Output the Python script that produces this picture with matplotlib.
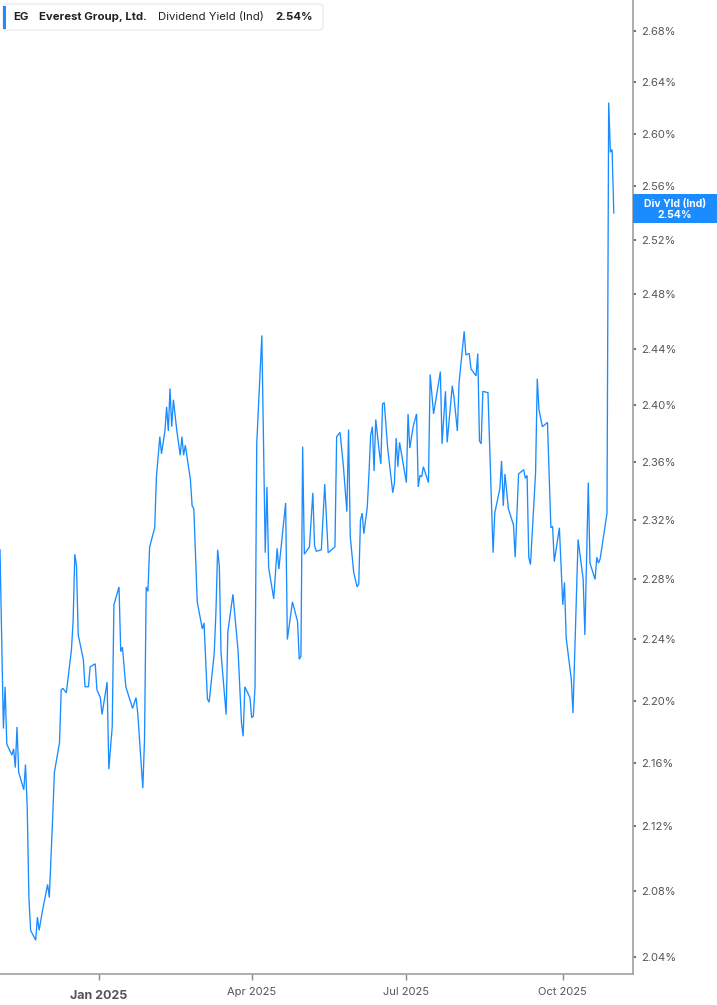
import matplotlib
matplotlib.use('Agg')
import matplotlib.pyplot as plt
import matplotlib.dates as mdates
from matplotlib.patches import FancyBboxPatch, Rectangle
from matplotlib.ticker import FixedLocator, NullLocator
import pandas as pd

plt.rcParams['font.family'] = ['Inter', 'DejaVu Sans']

TICKER = 'EG'
COMPANY = 'Everest Group, Ltd.'
METRIC = 'Dividend Yield (Ind)'
LAST_LABEL = '2.54%'
SHORT_METRIC = 'Div Yld (Ind)'

# dividend yield (%)
dates = [
    '2024-11-04', '2024-11-06', '2024-11-07', '2024-11-08', '2024-11-11', '2024-11-12', '2024-11-13',
    '2024-11-14', '2024-11-15', '2024-11-18', '2024-11-19', '2024-11-20', '2024-11-21', '2024-11-22',
    '2024-11-25', '2024-11-26', '2024-11-27', '2024-11-29',
    '2024-12-02', '2024-12-03', '2024-12-05', '2024-12-06', '2024-12-09', '2024-12-10', '2024-12-11',
    '2024-12-13', '2024-12-16', '2024-12-17', '2024-12-18', '2024-12-19', '2024-12-20', '2024-12-23',
    '2024-12-24', '2024-12-26', '2024-12-27', '2024-12-30', '2024-12-31',
    '2025-01-02', '2025-01-03', '2025-01-06', '2025-01-07', '2025-01-09', '2025-01-10', '2025-01-13',
    '2025-01-14', '2025-01-15', '2025-01-17', '2025-01-21', '2025-01-23', '2025-01-24', '2025-01-27',
    '2025-01-28', '2025-01-29', '2025-01-30', '2025-01-31',
    '2025-02-03', '2025-02-04', '2025-02-06', '2025-02-07', '2025-02-09', '2025-02-10', '2025-02-11',
    '2025-02-12', '2025-02-13', '2025-02-14', '2025-02-16', '2025-02-18', '2025-02-19', '2025-02-20',
    '2025-02-21', '2025-02-24', '2025-02-25', '2025-02-26', '2025-02-28',
    '2025-03-03', '2025-03-04', '2025-03-06', '2025-03-07', '2025-03-10', '2025-03-11', '2025-03-12',
    '2025-03-13', '2025-03-14', '2025-03-17', '2025-03-18', '2025-03-21', '2025-03-24', '2025-03-26',
    '2025-03-27', '2025-03-28', '2025-03-31',
    '2025-04-01', '2025-04-02', '2025-04-03', '2025-04-04', '2025-04-07', '2025-04-09', '2025-04-10',
    '2025-04-11', '2025-04-14', '2025-04-16', '2025-04-17', '2025-04-21', '2025-04-22', '2025-04-25',
    '2025-04-28', '2025-04-29', '2025-04-30',
    '2025-05-01', '2025-05-02', '2025-05-05', '2025-05-07', '2025-05-08', '2025-05-09', '2025-05-12',
    '2025-05-14', '2025-05-16', '2025-05-19', '2025-05-20', '2025-05-21', '2025-05-23', '2025-05-25',
    '2025-05-27', '2025-05-28', '2025-05-29', '2025-05-31',
    '2025-06-02', '2025-06-03', '2025-06-04', '2025-06-05', '2025-06-06', '2025-06-08', '2025-06-09',
    '2025-06-10', '2025-06-11', '2025-06-12', '2025-06-13', '2025-06-15', '2025-06-16', '2025-06-17',
    '2025-06-18', '2025-06-20', '2025-06-23', '2025-06-24', '2025-06-25', '2025-06-26', '2025-06-27',
    '2025-07-01', '2025-07-02', '2025-07-03', '2025-07-05', '2025-07-07', '2025-07-08', '2025-07-09',
    '2025-07-10', '2025-07-11', '2025-07-14', '2025-07-15', '2025-07-17', '2025-07-21', '2025-07-22',
    '2025-07-24', '2025-07-25', '2025-07-28', '2025-07-29', '2025-07-31',
    '2025-08-01', '2025-08-04', '2025-08-05', '2025-08-07', '2025-08-08', '2025-08-11', '2025-08-12',
    '2025-08-13', '2025-08-14', '2025-08-15', '2025-08-18', '2025-08-21', '2025-08-22', '2025-08-25',
    '2025-08-26', '2025-08-27', '2025-08-28', '2025-08-30',
    '2025-09-02', '2025-09-03', '2025-09-05', '2025-09-08', '2025-09-09', '2025-09-10', '2025-09-11',
    '2025-09-12', '2025-09-15', '2025-09-16', '2025-09-17', '2025-09-19', '2025-09-22', '2025-09-24',
    '2025-09-25', '2025-09-26', '2025-09-29',
    '2025-10-01', '2025-10-02', '2025-10-03', '2025-10-06', '2025-10-07', '2025-10-10', '2025-10-13',
    '2025-10-14', '2025-10-16', '2025-10-17', '2025-10-20', '2025-10-21', '2025-10-22', '2025-10-23',
    '2025-10-27', '2025-10-28', '2025-10-29', '2025-10-30', '2025-10-31',
]
yields = [
    2.300, 2.182, 2.209, 2.172, 2.165, 2.169, 2.157,
    2.183, 2.154, 2.143, 2.159, 2.132, 2.076, 2.056,
    2.050, 2.064, 2.056, 2.068,
    2.084, 2.076, 2.126, 2.154, 2.173, 2.207, 2.208,
    2.205, 2.233, 2.252, 2.297, 2.289, 2.243, 2.227,
    2.209, 2.209, 2.222, 2.224, 2.207,
    2.202, 2.191, 2.212, 2.156, 2.183, 2.263, 2.275,
    2.232, 2.235, 2.209, 2.195, 2.202, 2.192, 2.144,
    2.175, 2.275, 2.272, 2.302,
    2.315, 2.350, 2.378, 2.366, 2.382, 2.399, 2.382,
    2.412, 2.385, 2.404, 2.382, 2.365, 2.378, 2.365,
    2.372, 2.348, 2.330, 2.328, 2.265,
    2.247, 2.251, 2.201, 2.199, 2.231, 2.258, 2.300,
    2.289, 2.231, 2.191, 2.245, 2.270, 2.233, 2.186,
    2.177, 2.209, 2.202,
    2.189, 2.190, 2.209, 2.373, 2.450, 2.298, 2.343,
    2.288, 2.267, 2.301, 2.287, 2.332, 2.240, 2.265,
    2.252, 2.227, 2.229,
    2.371, 2.297, 2.302, 2.339, 2.303, 2.299, 2.300,
    2.345, 2.298, 2.301, 2.302, 2.378, 2.381, 2.357,
    2.326, 2.383, 2.309, 2.285,
    2.275, 2.277, 2.320, 2.325, 2.311, 2.329, 2.352,
    2.379, 2.385, 2.354, 2.390, 2.368, 2.359, 2.401,
    2.402, 2.370, 2.339, 2.346, 2.377, 2.357, 2.374,
    2.346, 2.394, 2.370, 2.385, 2.394, 2.343, 2.351,
    2.350, 2.357, 2.346, 2.422, 2.394, 2.424, 2.373,
    2.410, 2.374, 2.414, 2.406, 2.382,
    2.416, 2.453, 2.436, 2.437, 2.426, 2.421, 2.437,
    2.375, 2.373, 2.410, 2.409, 2.298, 2.325, 2.342,
    2.361, 2.330, 2.352, 2.328,
    2.317, 2.295, 2.352, 2.355, 2.349, 2.351, 2.295,
    2.290, 2.353, 2.419, 2.397, 2.385, 2.388, 2.315,
    2.316, 2.292, 2.315,
    2.263, 2.278, 2.241, 2.214, 2.192, 2.307, 2.280,
    2.243, 2.346, 2.291, 2.280, 2.295, 2.291, 2.294,
    2.325, 2.624, 2.586, 2.588, 2.540,
]

y_ticks = [2.04, 2.08, 2.12, 2.16, 2.20, 2.24, 2.28, 2.32, 2.36, 2.40, 2.44, 2.48,
           2.52, 2.56, 2.60, 2.64, 2.68]
x_ticks = ['2025-01-01', '2025-04-01', '2025-07-01', '2025-10-01']
x_tick_labels = ['Jan 2025', 'Apr 2025', 'Jul 2025', 'Oct 2025']

BLUE = '#1a8cff'
GREY = '#a6a6a6'
TEXT = '#555555'

W, H = 717, 1005


def fx(px):
    return px / W


def fy(py):
    return 1 - py / H


fig = plt.figure(figsize=(W / 100, H / 100), dpi=100)
ax = fig.add_axes([0, fy(974), fx(632.7), 974 / H])

x = pd.to_datetime(dates)
ax.plot(x, yields, color=BLUE, lw=0.95, solid_joinstyle='miter')

ax.set_yscale('log')
ax.set_ylim(2.0297, 2.7046)
ax.set_xlim(pd.Timestamp('2024-11-04'), pd.Timestamp('2025-11-11 03:00'))

ax.yaxis.set_major_locator(FixedLocator(y_ticks))
ax.yaxis.set_minor_locator(NullLocator())
ax.set_yticklabels([f'{v:.2f}%' for v in y_ticks])
ax.yaxis.tick_right()
ax.tick_params(axis='y', which='major', direction='out', length=2.5, width=1.2,
               color='#555555', labelsize=8, labelcolor=TEXT, pad=3.5)

ax.set_xticks(pd.to_datetime(x_ticks))
ax.set_xticklabels(x_tick_labels)
ax.tick_params(axis='x', direction='out', length=4, width=1.0, color='#888888',
               labelsize=8, labelcolor=TEXT, pad=5)
for lbl in ax.get_xticklabels():
    if lbl.get_text() == 'Jan 2025':
        lbl.set_fontweight('bold')
        lbl.set_fontsize(9)
        lbl.set_y(-0.004)

for side in ('top', 'left'):
    ax.spines[side].set_visible(False)
for side in ('right', 'bottom'):
    ax.spines[side].set_color(GREY)
    ax.spines[side].set_linewidth(1.3)

# legend box at the top left
box = FancyBboxPatch((fx(3), fy(30)), fx(323) - fx(3), fy(4) - fy(30),
                     boxstyle='round,pad=0,rounding_size=0.004', transform=fig.transFigure,
                     facecolor='white', edgecolor='#e6e6e6', lw=0.8)
fig.patches.append(box)
fig.patches.append(Rectangle((fx(3), fy(29)), fx(3), fy(6) - fy(29), transform=fig.transFigure,
                             facecolor=BLUE, edgecolor='none'))
ty = fy(17)
fig.text(fx(13), ty, TICKER, fontsize=8.2, fontweight='bold', color='#222222', va='center')
fig.text(fx(39), ty, COMPANY, fontsize=8.2, fontweight='bold', color='#222222', va='center')
fig.text(fx(158), ty, METRIC, fontsize=8.2, color='#222222', va='center')
fig.text(fx(275), ty, LAST_LABEL, fontsize=8.2, fontweight='bold', color='#222222', va='center')

# last-value tag on the right axis
fig.patches.append(Rectangle((fx(633), fy(223)), fx(717) - fx(633), fy(194) - fy(223),
                             transform=fig.transFigure, facecolor=BLUE, edgecolor='none'))
fig.text(fx(675), fy(203.5), SHORT_METRIC, fontsize=7.5, fontweight='bold', color='white',
         ha='center', va='center')
fig.text(fx(675), fy(214.5), LAST_LABEL, fontsize=7.5, fontweight='bold', color='white',
         ha='center', va='center')

fig.savefig('out.png', dpi=100, facecolor='white')
